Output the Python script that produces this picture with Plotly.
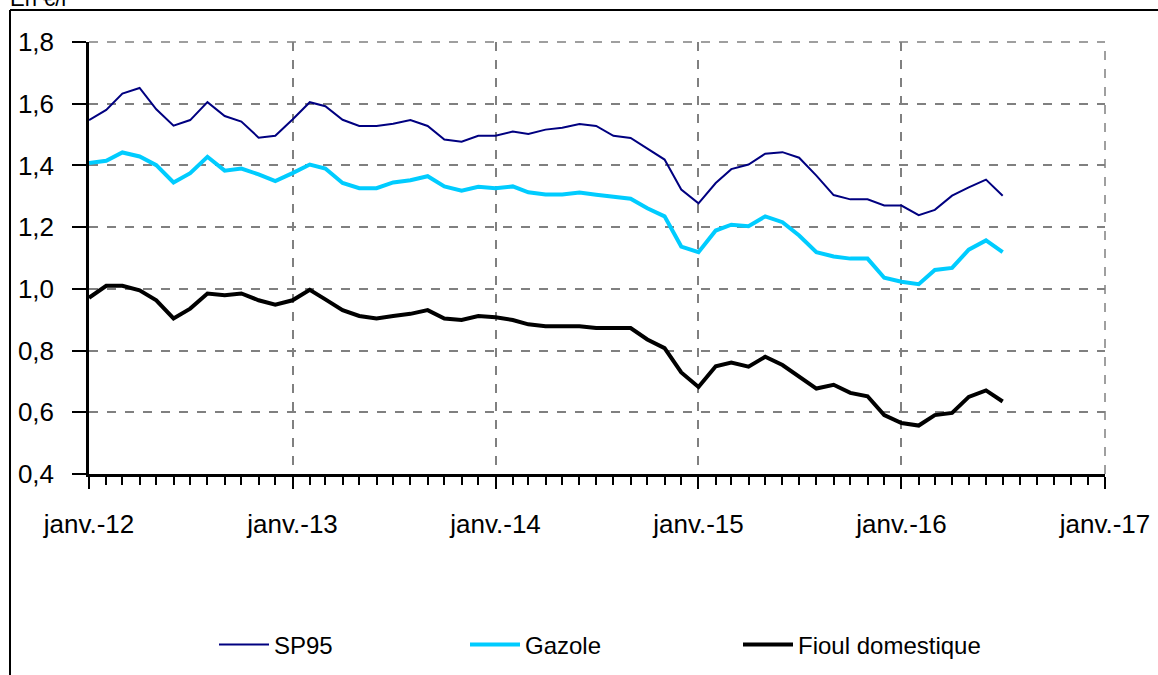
import pandas as pd
import plotly.graph_objects as go

# ---- data (monthly, Jan 2012 - Jul 2016), en €/l ----
sp95 = [1.547, 1.580, 1.633, 1.651, 1.582, 1.529, 1.547, 1.605, 1.560, 1.542, 1.490, 1.496,
        1.549, 1.605, 1.592, 1.548, 1.528, 1.528, 1.535, 1.547, 1.528, 1.484, 1.477, 1.496,
        1.496, 1.510, 1.502, 1.516, 1.522, 1.534, 1.528, 1.496, 1.489, 1.455, 1.419, 1.322,
        1.277, 1.343, 1.388, 1.403, 1.438, 1.443, 1.425, 1.367, 1.304, 1.290, 1.290, 1.270,
        1.270, 1.239, 1.256, 1.302, 1.329, 1.354, 1.302]
gazole = [1.408, 1.415, 1.442, 1.429, 1.401, 1.345, 1.375, 1.428, 1.383, 1.390, 1.371, 1.349,
          1.375, 1.403, 1.390, 1.343, 1.326, 1.326, 1.345, 1.352, 1.365, 1.332, 1.318, 1.331,
          1.326, 1.332, 1.313, 1.306, 1.306, 1.312, 1.305, 1.300, 1.292, 1.261, 1.235, 1.137,
          1.119, 1.189, 1.208, 1.203, 1.235, 1.216, 1.173, 1.119, 1.105, 1.098, 1.098, 1.036,
          1.023, 1.015, 1.061, 1.068, 1.127, 1.157, 1.119]
fioul = [0.971, 1.010, 1.010, 0.995, 0.963, 0.904, 0.936, 0.985, 0.979, 0.985, 0.963, 0.949,
         0.963, 0.997, 0.966, 0.931, 0.912, 0.904, 0.912, 0.919, 0.931, 0.904, 0.899, 0.912,
         0.908, 0.899, 0.885, 0.879, 0.879, 0.879, 0.873, 0.873, 0.873, 0.836, 0.808, 0.729,
         0.682, 0.749, 0.761, 0.748, 0.780, 0.753, 0.716, 0.677, 0.689, 0.663, 0.652, 0.591,
         0.565, 0.557, 0.591, 0.598, 0.650, 0.671, 0.635]
series_names = ["SP95", "Gazole", "Fioul domestique"]
start_month = "2012-01-01"
months = pd.date_range(start=start_month, periods=len(sp95), freq="MS")

tick_dates = ["2012-01-01", "2013-01-01", "2014-01-01", "2015-01-01", "2016-01-01", "2017-01-01"]
tick_labels = ["janv.-12", "janv.-13", "janv.-14", "janv.-15", "janv.-16", "janv.-17"]
unit_label = "En €/l"

FONT = "Liberation Sans"
W, H = 1158, 675
L, R, T, B = 89, 53, 42, 201
pw, ph = W - L - R, H - T - B

def px_x(p):
    return (p - L) / pw

def px_y(p):
    return (H - B - p) / ph

fig = go.Figure()
fig.add_trace(go.Scatter(x=months, y=sp95, name=series_names[0], mode="lines",
                         line=dict(color="#000080", width=2), legend="legend"))
fig.add_trace(go.Scatter(x=months, y=gazole, name=series_names[1], mode="lines",
                         line=dict(color="#00CCFF", width=4), legend="legend2"))
fig.add_trace(go.Scatter(x=months, y=fioul, name=series_names[2], mode="lines",
                         line=dict(color="#000000", width=4), legend="legend3"))

grid = dict(showgrid=True, gridcolor="#808080", gridwidth=1.5, griddash="dash")

fig.update_xaxes(
    type="date", range=[tick_dates[0], tick_dates[-1]],
    tickmode="array", tickvals=tick_dates, ticktext=tick_labels,
    ticks="outside", ticklen=12, tickwidth=2, tickcolor="black",
    showline=True, linecolor="black", linewidth=2.5,
    minor=dict(dtick="M1", tick0=start_month, ticks="outside", ticklen=8,
               tickwidth=1.5, tickcolor="black", showgrid=False),
    tickfont=dict(family=FONT, size=26, color="black"),
    ticklabelstandoff=13, automargin=False, zeroline=False, **grid)
fig.update_yaxes(
    range=[0.4, 1.8], dtick=0.2, tick0=0.4, tickformat=".1f",
    ticks="outside", ticklen=14, tickwidth=2, tickcolor="black",
    showline=True, linecolor="black", linewidth=2.5,
    tickfont=dict(family=FONT, size=26, color="black"),
    ticklabelstandoff=13, automargin=False, zeroline=False, **grid)

# outer frame (top and left edges)
fig.add_shape(type="line", xref="paper", yref="paper",
              x0=px_x(10), x1=px_x(W + 5), y0=px_y(10), y1=px_y(10),
              line=dict(color="black", width=2))
fig.add_shape(type="line", xref="paper", yref="paper",
              x0=px_x(10), x1=px_x(10), y0=px_y(10), y1=px_y(H + 5),
              line=dict(color="black", width=2))
# top / right grid borders
fig.add_shape(type="line", xref="paper", yref="paper", x0=0, x1=1, y0=1, y1=1,
              line=dict(color="#808080", width=1.5, dash="dash"), layer="below")
fig.add_shape(type="line", xref="paper", yref="paper", x0=1, x1=1, y0=0, y1=1,
              line=dict(color="#808080", width=1.5, dash="dash"), layer="below")

fig.add_annotation(text=unit_label, xref="paper", yref="paper",
                   x=px_x(8), y=px_y(13), xanchor="left", yanchor="bottom",
                   showarrow=False, font=dict(family=FONT, size=22, color="black"))

leg_common = dict(orientation="h", yanchor="middle", xanchor="left", y=px_y(645),
                  font=dict(family=FONT, size=24, color="black"),
                  bgcolor="rgba(0,0,0,0)", itemwidth=50)
fig.update_layout(
    width=W, height=H,
    margin=dict(l=L, r=R, t=T, b=B, autoexpand=False),
    paper_bgcolor="white", plot_bgcolor="white",
    separators=", ",
    showlegend=True,
    legend=dict(x=px_x(214), **leg_common),
    legend2=dict(x=px_x(465), **leg_common),
    legend3=dict(x=px_x(738), **leg_common),
    font=dict(family=FONT, color="black"),
)

fig.write_html("out.html", config={"displayModeBar": False},
               post_script="document.body.style.margin='0px';")
